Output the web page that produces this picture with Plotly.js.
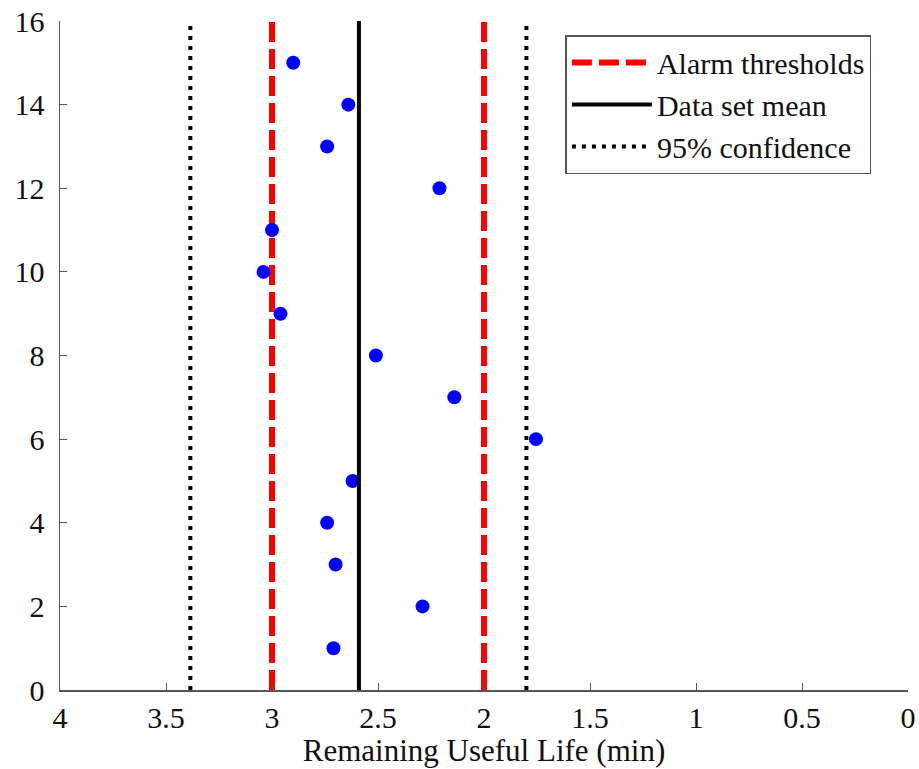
<!DOCTYPE html>
<html>
<head>
<meta charset="utf-8">
<script src="https://cdn.plot.ly/plotly-3.0.1.min.js"></script>
<style>html,body{margin:0;padding:0;background:#fff;}#chart{width:919px;height:769px;}</style>
</head>
<body>
<div id="chart"></div>
<script>
// Data
const sampleIndex = [15, 14, 13, 12, 11, 10, 9, 8, 7, 6, 5, 4, 3, 2, 1];
const rulValues = [2.90, 2.64, 2.74, 2.21, 3.00, 3.04, 2.96, 2.51, 2.14, 1.755, 2.62, 2.74, 2.70, 2.29, 2.71];
const alarmThresholds = [3.0, 2.0];
const dataSetMean = [2.59];
const confidenceBounds = [3.385, 1.80];
const yExtent = [0, 16];
const xTicks = [4, 3.5, 3, 2.5, 2, 1.5, 1, 0.5, 0];
const yTicks = [0, 2, 4, 6, 8, 10, 12, 14, 16];
const legendNames = ['Alarm thresholds', 'Data set mean', '95% confidence'];

function verticals(vals) {
  const x = [], y = [];
  vals.forEach(v => { x.push(v, v, null); y.push(yExtent[0], yExtent[1], null); });
  return {x, y};
}

const font = {family: 'Liberation Serif', size: 31, color: '#111'};
const tickFont = {family: 'Liberation Serif', size: 30, color: '#111'};
const legendFont = {family: 'Liberation Serif', size: 30, color: '#111'};

const conf = verticals(confidenceBounds);
const alarm = verticals(alarmThresholds);
const mean = verticals(dataSetMean);

const traces = [
  {x: conf.x, y: conf.y, mode: 'lines', name: legendNames[2], legendrank: 3,
   line: {color: '#000', width: 4, dash: '4px,6px'}},
  {x: alarm.x, y: alarm.y, mode: 'lines', name: legendNames[0], legendrank: 1,
   line: {color: '#ff0000', width: 6, dash: '20px,7px'}},
  {x: rulValues, y: sampleIndex, mode: 'markers', showlegend: false,
   marker: {color: '#0000ff', size: 14}},
  {x: mean.x, y: mean.y, mode: 'lines', name: legendNames[1], legendrank: 2,
   line: {color: '#000', width: 4}}
];

const layout = {
  width: 919, height: 769,
  margin: {l: 60, r: 11, t: 21, b: 79},
  paper_bgcolor: '#fff', plot_bgcolor: '#fff',
  font: font,
  showlegend: true,
  legend: {
    x: 0.596, y: 0.979, xanchor: 'left', yanchor: 'top',
    bgcolor: '#fff', bordercolor: '#555', borderwidth: 1.5,
    font: legendFont, itemwidth: 80, traceorder: 'normal'
  },
  xaxis: {
    range: [4, 0], tickvals: xTicks, ticktext: xTicks.map(String),
    ticks: 'inside', ticklen: 7, tickwidth: 1, tickcolor: '#555',
    showline: true, linecolor: '#555', linewidth: 1.5,
    showgrid: false, zeroline: false,
    tickfont: tickFont, ticklabelstandoff: 0,
    title: {text: 'Remaining Useful Life (min)', font: font, standoff: 0}
  },
  yaxis: {
    range: yExtent, tickvals: yTicks, ticktext: yTicks.map(String),
    ticks: 'inside', ticklen: 7, tickwidth: 1, tickcolor: '#555',
    showline: true, linecolor: '#555', linewidth: 1.5,
    showgrid: false, zeroline: false,
    tickfont: tickFont, ticklabelstandoff: 8
  }
};

Plotly.newPlot('chart', traces, layout, {displayModeBar: false, staticPlot: true});
</script>
</body>
</html>
